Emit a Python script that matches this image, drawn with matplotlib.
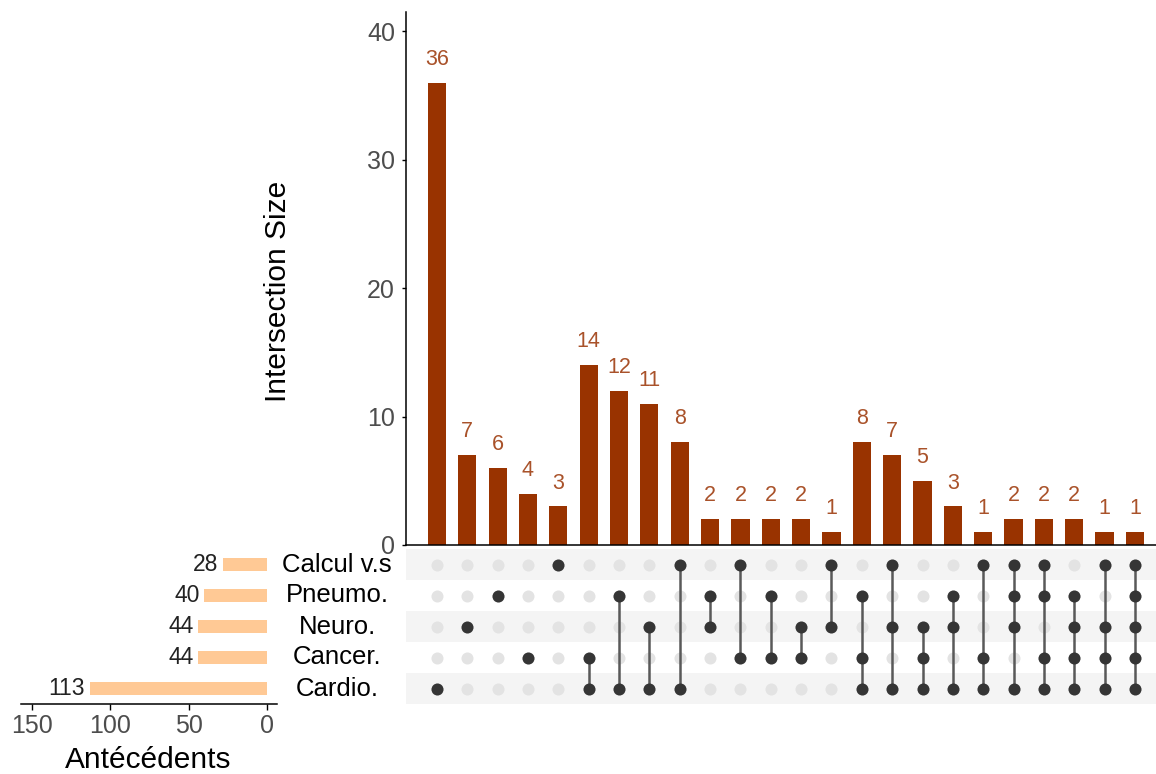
import matplotlib
matplotlib.use("Agg")
import matplotlib.pyplot as plt
import matplotlib.transforms as mtransforms
import numpy as np

plt.rcParams['font.family'] = ['Liberation Sans', 'DejaVu Sans']

# sets, listed top to bottom as in the matrix
sets = ['Calcul v.s', 'Pneumo.', 'Neuro.', 'Cancer.', 'Cardio.']
set_sizes = [28, 40, 44, 44, 113]

# intersections (left to right) and their sizes
intersections = [
    ['Cardio.'],
    ['Neuro.'],
    ['Pneumo.'],
    ['Cancer.'],
    ['Calcul v.s'],
    ['Cancer.', 'Cardio.'],
    ['Pneumo.', 'Cardio.'],
    ['Neuro.', 'Cardio.'],
    ['Calcul v.s', 'Cardio.'],
    ['Pneumo.', 'Neuro.'],
    ['Calcul v.s', 'Cancer.'],
    ['Pneumo.', 'Cancer.'],
    ['Neuro.', 'Cancer.'],
    ['Calcul v.s', 'Neuro.'],
    ['Pneumo.', 'Cancer.', 'Cardio.'],
    ['Calcul v.s', 'Neuro.', 'Cardio.'],
    ['Neuro.', 'Cancer.', 'Cardio.'],
    ['Pneumo.', 'Neuro.', 'Cardio.'],
    ['Calcul v.s', 'Cancer.', 'Cardio.'],
    ['Calcul v.s', 'Pneumo.', 'Neuro.', 'Cardio.'],
    ['Calcul v.s', 'Pneumo.', 'Cancer.', 'Cardio.'],
    ['Pneumo.', 'Neuro.', 'Cancer.', 'Cardio.'],
    ['Calcul v.s', 'Neuro.', 'Cancer.', 'Cardio.'],
    ['Calcul v.s', 'Pneumo.', 'Neuro.', 'Cancer.', 'Cardio.'],
]
inter_sizes = [36, 7, 6, 4, 3, 14, 12, 11, 8, 2, 2, 2, 2, 1, 8, 7, 5, 3, 1, 2, 2, 2, 1, 1]

bar_color = '#993300'
label_color = '#a9522a'
set_bar_color = '#ffc995'
tick_grey = '#4d4d4d'

W, H = 1156, 774
fig = plt.figure(figsize=(W / 100, H / 100), dpi=100)

def fx(px):
    return px / W

def fy(py):
    return 1 - py / H

ax_bar = fig.add_axes([fx(406), fy(545), fx(1158) - fx(406), fy(12) - fy(545)])
ax_mat = fig.add_axes([fx(406), fy(704), fx(1158) - fx(406), fy(549) - fy(704)])
ax_set = fig.add_axes([fx(21), fy(704), fx(277) - fx(21), fy(549) - fy(704)])

n = len(inter_sizes)
xs = np.arange(n)
row_y = {s: len(sets) - 1 - i for i, s in enumerate(sets)}
xlim = (-1.02, n - 1 + 0.76)

# --- intersection size bars
ax_bar.bar(xs, inter_sizes, width=0.6, color=bar_color)
for x, v in zip(xs, inter_sizes):
    ax_bar.text(x, v + 1.0, str(v), ha='center', va='bottom', fontsize=15.5, color=label_color)
ax_bar.set_xlim(*xlim)
ax_bar.set_ylim(0, 41.5)
ax_bar.set_yticks([0, 10, 20, 30, 40])
ax_bar.set_xticks([])
for s in ['top', 'right']:
    ax_bar.spines[s].set_visible(False)
ax_bar.spines['left'].set_linewidth(1.1)
ax_bar.spines['bottom'].set_linewidth(1.1)
ax_bar.tick_params(axis='y', length=3, width=1, pad=5, labelsize=18, labelcolor=tick_grey)
fig.text(fx(278), fy(291), 'Intersection Size', rotation=90, ha='center', va='center', fontsize=21.5)

# --- matrix
for s in sets:
    r = row_y[s]
    if r % 2 == 0:
        ax_mat.axhspan(r - 0.5, r + 0.5, color='#f4f4f4', lw=0, zorder=0)
for x, combo in zip(xs, intersections):
    ax_mat.scatter([x] * len(sets), list(range(len(sets))), s=75, color='#e3e3e3', zorder=1, lw=0)
    ys = [row_y[s] for s in combo]
    if len(ys) > 1:
        ax_mat.plot([x, x], [min(ys), max(ys)], color='#595959', lw=1.8, zorder=2)
    ax_mat.scatter([x] * len(ys), ys, s=75, color='#353535', zorder=3, lw=0)
ax_mat.set_xlim(*xlim)
ax_mat.set_ylim(-0.5, len(sets) - 0.5)
ax_mat.axis('off')

# set names between the two panels
trans = mtransforms.blended_transform_factory(fig.transFigure, ax_mat.transData)
for s in sets:
    ax_mat.text(fx(337), row_y[s], s, transform=trans, ha='center', va='center', fontsize=18.5)

# --- set sizes
ys = [row_y[s] for s in sets]
ax_set.barh(ys, set_sizes, height=0.42, color=set_bar_color)
for y, v in zip(ys, set_sizes):
    ax_set.text(v + 3, y, str(v), ha='right', va='center', fontsize=16.5, color='#222222')
ax_set.set_xlim(157, -6.4)
ax_set.set_ylim(-0.5, len(sets) - 0.5)
ax_set.set_xticks([150, 100, 50, 0])
ax_set.set_yticks([])
for s in ['top', 'right', 'left']:
    ax_set.spines[s].set_visible(False)
ax_set.spines['bottom'].set_linewidth(1.1)
ax_set.tick_params(axis='x', length=4, width=1, pad=3, labelsize=18, labelcolor=tick_grey)
fig.text(fx(148), fy(760), 'Antécédents', ha='center', va='center', fontsize=21.5)

fig.savefig('out.png', dpi=100)
